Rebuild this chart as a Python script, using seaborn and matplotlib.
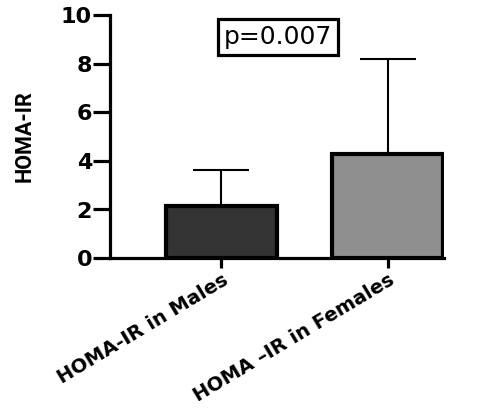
import matplotlib
matplotlib.use("Agg")
import matplotlib.pyplot as plt
import seaborn as sns
import pandas as pd

# values
groups = ["HOMA-IR in Males", "HOMA –IR in Females"]
means = [2.14, 4.28]
sd_upper = [1.48, 3.91]
bar_colors = ["#333333", "#8f8f8f"]
p_text = "p=0.007"

sns.set_style("ticks", {"axes.edgecolor": "black", "xtick.color": "black",
                        "ytick.color": "black", "text.color": "black",
                        "axes.labelcolor": "black"})
plt.rcParams['font.family'] = ['DejaVu Sans']

df = pd.DataFrame({"group": groups, "mean": means})

fig = plt.figure(figsize=(4.98, 4.19), dpi=100)
ax = fig.add_axes([0.221, 0.384, 0.671, 0.58])

sns.barplot(data=df, x="group", y="mean", hue="group", palette=bar_colors,
            width=0.67, edgecolor="black", linewidth=3, legend=False, ax=ax,
            zorder=2)

# upper-only SD bars
ax.errorbar(range(len(groups)), means, yerr=[[0] * len(groups), sd_upper],
            fmt="none", ecolor="black", elinewidth=1.5, capsize=20,
            capthick=1.5, zorder=1)

ax.set_ylim(0, 10)
ax.set_xlim(-0.67, 1.34)
ax.set_yticks([0, 2, 4, 6, 8, 10])
ax.set_xlabel("")
ax.set_ylabel("HOMA-IR", fontsize=15.5, fontweight="bold",
              family=["Roboto", "DejaVu Sans"], labelpad=18)

sns.despine(ax=ax)
for s in ["left", "bottom"]:
    ax.spines[s].set_linewidth(2.3)
ax.tick_params(axis="y", width=2.3, length=12, pad=1, labelsize=16)
ax.tick_params(axis="x", width=2.3, length=7, pad=2, labelsize=14)
for lbl in ax.get_yticklabels():
    lbl.set_fontweight("bold")
for lbl in ax.get_xticklabels():
    lbl.set_fontweight("bold")
    lbl.set_rotation(31)
    lbl.set_ha("right")
    lbl.set_rotation_mode("anchor")

ax.text(0.34, 9.1, p_text, ha="center", va="center", fontsize=18,
        bbox=dict(boxstyle="square,pad=0.24", facecolor="white",
                  edgecolor="black", linewidth=2.3))

fig.savefig("out.png", dpi=100)
